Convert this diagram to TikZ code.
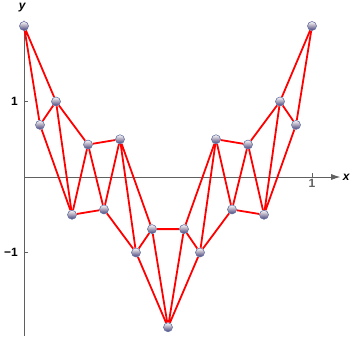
\documentclass[tikz,border=0pt]{standalone}
\usepackage{fontspec}
\setmainfont{Liberation Sans}
\usetikzlibrary{arrows.meta,backgrounds}
\definecolor{bolaarriba}{RGB}{255,250,246}
\definecolor{bolamedio}{RGB}{248,225,222}
\definecolor{bolaabajo}{RGB}{70,65,120}
\definecolor{borde}{RGB}{100,115,165}
\tikzset{
  punto/.style={circle, inner sep=0pt, minimum size=9pt, draw=borde, line width=0.6pt,
    top color=bolaarriba, middle color=bolamedio, bottom color=bolaabajo},
  arista/.style={red, line width=1.8pt},
  eje/.style={gray!75!black, line width=0.8pt},
  etiqueta/.style={font=\bfseries\fontsize{12}{14}\selectfont, inner sep=1pt},
}
\begin{document}
\begin{tikzpicture}[x=288pt, y=75.5pt]
    \useasboundingbox (-24/288, -161/75.5) rectangle (327/288, 177/75.5);
    % puntos
    \foreach \k/\yy [count=\i] in {0/2, 1/0.69, 2/1, 3/-0.5, 4/0.43, 5/-0.43, 6/0.5,
        7/-1, 8/-0.69, 9/-1.99, 10/-0.69, 11/-1, 12/0.5, 13/-0.43, 14/0.43,
        15/-0.5, 16/1, 17/0.69, 18/2}
        \node[punto] (p\i) at (\k/18, \yy) {};
    \begin{scope}[on background layer]
        % ejes
        \coordinate (o) at (0, 0);
        \coordinate (xfin) at (1.098, 0);
        \coordinate (yini) at (0, -2.1);
        \coordinate (yfin) at (0, 2.08);
        \draw[eje, -{Latex[length=9pt, width=6pt]}] (o) -- (xfin);
        \draw[eje, -{Latex[length=9pt, width=6pt]}] (yini) -- (yfin);
        \node[etiqueta, font=\bfseries\itshape\fontsize{12}{14}\selectfont] (xlab) at (1.119, 0) {x};
        \node[etiqueta, font=\bfseries\itshape\fontsize{12}{14}\selectfont] (ylab) at (-0.006, 2.24) {y};
        \draw[eje, line width=0.6pt] (1, 0) -- ++(0, 4pt) node[etiqueta, below=5pt] (xuno) {1};
        \draw[eje, line width=0.6pt] (0, 1) -- ++(4pt, 0);
        \draw[eje, line width=0.6pt] (0, -1) -- ++(4pt, 0);
        \node[etiqueta, left=5pt] (yuno) at (0, 1) {1};
        \node[etiqueta, left=5pt] (ymenos) at (0, -1) {−1};
        % aristas
        \foreach \i in {1,...,17} {
            \pgfmathtruncatemacro\j{\i+1}
            \pgfmathtruncatemacro\m{\i+2}
            \draw[arista] (p\i) -- (p\j) (p\i) -- (p\m);
        }
        \draw[arista] (p18) -- (p19);
    \end{scope}
\end{tikzpicture}
\end{document}
